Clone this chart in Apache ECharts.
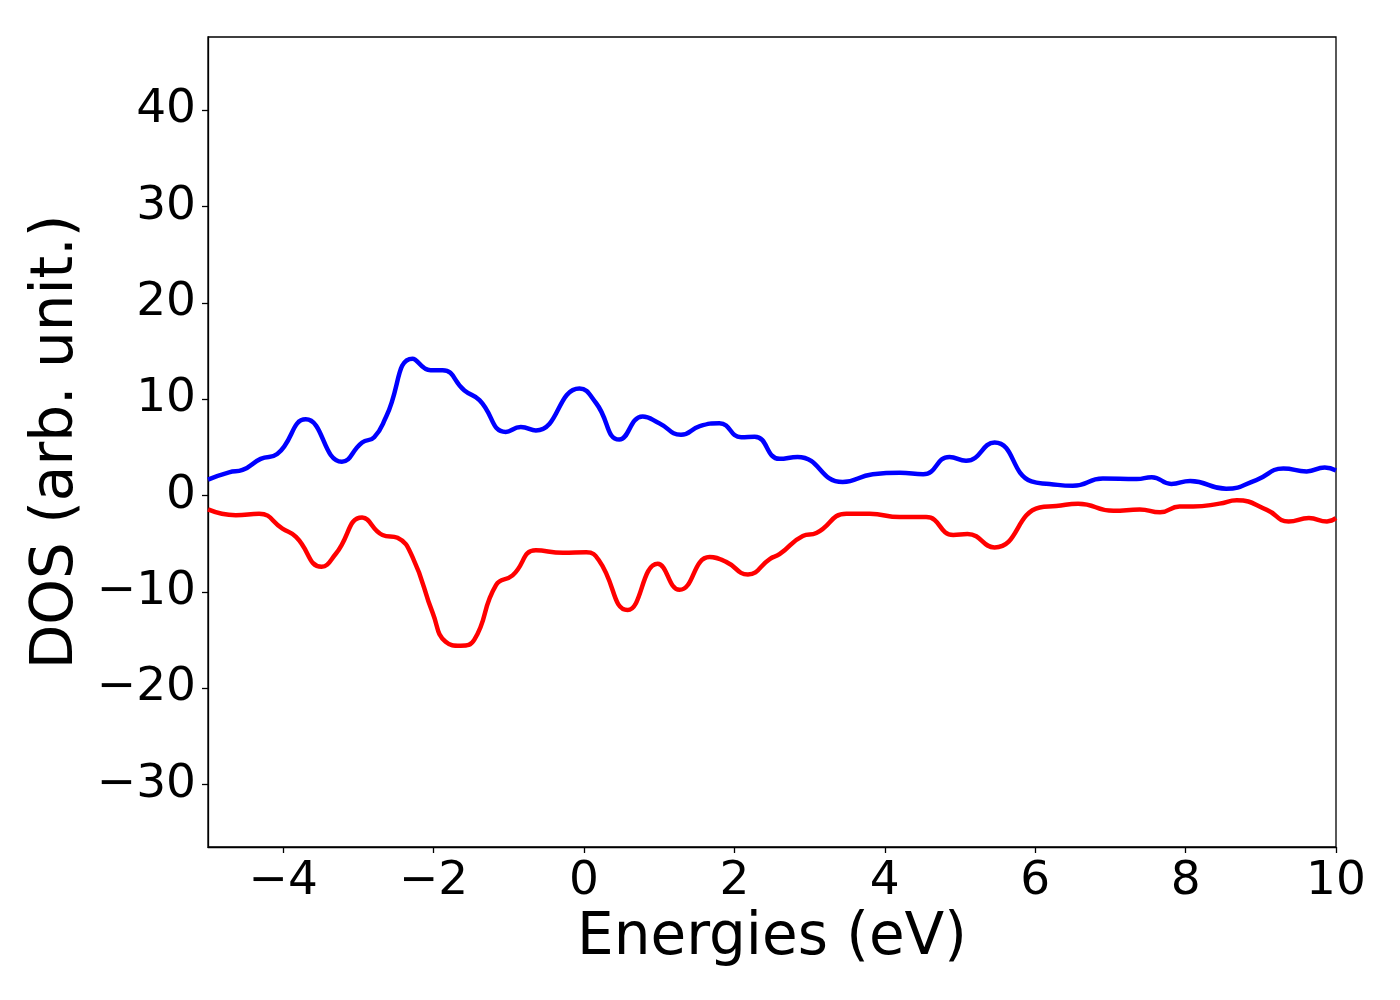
<!DOCTYPE html>
<html>
<head>
<meta charset="utf-8">
<script src="https://cdn.jsdelivr.net/npm/echarts@6/dist/echarts.min.js"></script>
<style>
  html, body { margin: 0; padding: 0; background: #fff; }
  #chart { width: 1400px; height: 1000px; }
</style>
</head>
<body>
<div id="chart"></div>
<script>
// spin up (blue) – energy / DOS pairs
var upEnergy = [-5.0, -4.72, -4.54, -4.30, -4.08, -3.70, -3.22, -2.95, -2.79, -2.63, -2.28, -2.04, -1.88, -1.59, -1.39, -1.04, -0.84, -0.64, -0.06, 0.16, 0.47, 0.78, 1.00, 1.29, 1.54, 1.80, 2.09, 2.27, 2.60, 2.84, 3.44, 3.84, 4.20, 4.51, 4.86, 5.08, 5.46, 5.95, 6.19, 6.50, 6.90, 7.35, 7.55, 7.81, 8.06, 8.54, 8.94, 9.30, 9.61, 9.85, 10.0];
var upDos = [1.65, 2.4, 2.65, 3.8, 4.3, 7.9, 3.5, 5.5, 6.05, 8.2, 14.2, 13.0, 13.0, 10.9, 9.9, 6.6, 7.1, 6.75, 11.1, 9.6, 5.8, 8.2, 7.5, 6.3, 7.2, 7.5, 6.05, 6.1, 3.8, 4.0, 1.4, 2.2, 2.35, 2.2, 4.0, 3.6, 5.5, 1.45, 1.2, 1.0, 1.75, 1.7, 1.9, 1.2, 1.5, 0.7, 1.6, 2.8, 2.5, 2.9, 2.6];

// spin down (red)
var downEnergy = [-5.0, -4.63, -4.32, -4.01, -3.83, -3.49, -3.30, -2.95, -2.68, -2.48, -2.28, -2.01, -1.84, -1.64, -1.46, -1.17, -0.95, -0.64, -0.28, 0.03, 0.20, 0.58, 0.98, 1.27, 1.67, 1.89, 2.18, 2.47, 2.60, 2.91, 3.09, 3.49, 3.80, 4.20, 4.55, 4.91, 5.10, 5.46, 6.06, 6.28, 6.57, 7.04, 7.39, 7.66, 7.92, 8.10, 8.45, 8.68, 9.08, 9.37, 9.64, 9.88, 10.0];
var downDos = [-1.45, -2.05, -1.9, -3.45, -4.3, -7.4, -6.05, -2.3, -4.1, -4.4, -6.4, -12.25, -15.2, -15.6, -15.0, -9.3, -8.3, -5.7, -5.95, -5.9, -6.75, -11.9, -7.1, -9.8, -6.4, -6.9, -8.2, -6.6, -6.1, -4.2, -3.9, -1.9, -1.9, -2.25, -2.25, -4.1, -4.0, -5.4, -1.25, -1.1, -0.85, -1.6, -1.45, -1.75, -1.15, -1.15, -0.85, -0.5, -1.5, -2.7, -2.35, -2.7, -2.35];

var xTicks = [-4, -2, 0, 2, 4, 6, 8, 10];
var yTicks = [-30, -20, -10, 0, 10, 20, 30, 40];

var pairs = (xs, ys) => xs.map((x, i) => [x, ys[i]]);
var minus = v => String(v).replace('-', '\u2212');
var font = 'DejaVu Sans';

var chart = echarts.init(document.getElementById('chart'));
var option = {
  backgroundColor: '#fff',
  animation: false,
  grid: {
    left: 208, right: 64, top: 37, bottom: 153,
    show: true, borderColor: '#000', borderWidth: 1.3, backgroundColor: 'transparent'
  },
  xAxis: {
    type: 'value',
    min: -5, max: 10,
    interval: 1,
    name: 'Energies (eV)',
    nameLocation: 'middle',
    nameGap: 62,
    nameTextStyle: { fontFamily: font, fontSize: 58, color: '#000' },
    axisLine: { onZero: false, lineStyle: { color: '#000', width: 1.3 } },
    axisTick: { show: true, length: 6, inside: false, lineStyle: { color: '#000', width: 1.3 },
      customValues: xTicks },
    axisLabel: { fontFamily: font, fontSize: 47, color: '#000', margin: 11,
      customValues: xTicks, formatter: minus, showMinLabel: true, showMaxLabel: true },
    splitLine: { show: false }
  },
  yAxis: {
    type: 'value',
    min: -36.5, max: 47.6,
    name: 'DOS (arb. unit.)',
    nameLocation: 'middle',
    nameGap: 116,
    nameTextStyle: { fontFamily: font, fontSize: 58, color: '#000' },
    axisLine: { onZero: false, lineStyle: { color: '#000', width: 1.3 } },
    axisTick: { show: true, length: 6, lineStyle: { color: '#000', width: 1.3 },
      customValues: yTicks },
    axisLabel: { fontFamily: font, fontSize: 47, color: '#000', margin: 12,
      customValues: yTicks, formatter: minus, padding: [6, 0, 0, 0] },
    splitLine: { show: false }
  },
  series: [
    {
      type: 'line',
      data: pairs(upEnergy, upDos),
      smooth: 0.5,
      showSymbol: false,
      lineStyle: { color: '#0000ff', width: 4.5 },
      clip: true
    },
    {
      type: 'line',
      data: pairs(downEnergy, downDos),
      smooth: 0.5,
      showSymbol: false,
      lineStyle: { color: '#ff0000', width: 4.5 },
      clip: true
    }
  ]
};
chart.setOption(option);
</script>
</body>
</html>
